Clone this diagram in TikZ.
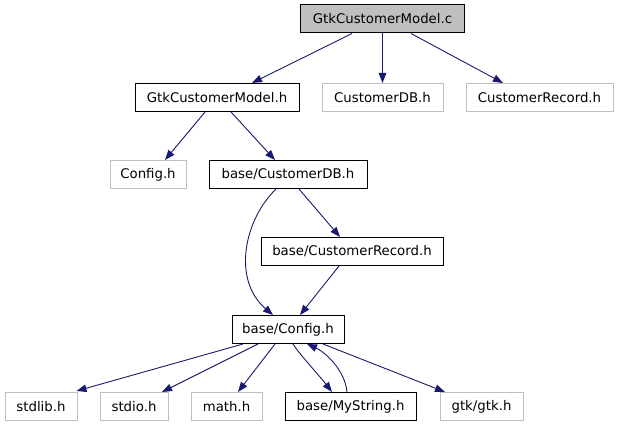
\documentclass[tikz,border=0pt]{standalone}
\usepackage{fontspec}
\setmainfont{DejaVu Sans}
\usetikzlibrary{arrows.meta}
\definecolor{edgeblue}{HTML}{191970}
\definecolor{lightbox}{HTML}{BFBFBF}
\begin{document}
\begin{tikzpicture}[x=1pt,y=-1pt,
  box/.style={draw=black,line width=1pt,inner sep=0pt,minimum height=28pt,
    font=\fontsize{13.3}{16}\selectfont,text=black},
  graybox/.style={box,draw=lightbox},
  topbox/.style={box,fill=lightbox},
  edge/.style={draw=edgeblue,line width=0.9pt,-{Triangle[length=10pt,width=7.5pt]}}]
\useasboundingbox (0,0) rectangle (619,427);
% nodes
\node[topbox,minimum width=164pt] (c) at (382.5,19) {GtkCustomerModel.c};
\node[box,minimum width=164pt] (gcmh) at (217,97.5) {GtkCustomerModel.h};
\node[graybox,minimum width=121pt] (cdb) at (382.5,97.5) {CustomerDB.h};
\node[graybox,minimum width=147pt] (crec) at (539.5,97.5) {CustomerRecord.h};
\node[graybox,minimum width=76pt] (cfg) at (148,174.5) {Config.h};
\node[box,minimum width=158pt] (bcdb) at (288,174.5) {base/CustomerDB.h};
\node[box,minimum width=182pt] (bcrec) at (352,251.5) {base/CustomerRecord.h};
\node[box,minimum width=112pt] (bcfg) at (288,329.5) {base/Config.h};
\node[graybox,minimum width=72pt] (stdlib) at (41,406.5) {stdlib.h};
\node[graybox,minimum width=68pt] (stdio) at (134,406.5) {stdio.h};
\node[graybox,minimum width=71pt] (math) at (226.5,406.5) {math.h};
\node[box,minimum width=131pt] (mystr) at (350.5,406.5) {base/MyString.h};
\node[graybox,minimum width=83pt] (gtk) at (481.5,406.5) {gtk/gtk.h};
% edges
\draw[edge] ([xshift=-30.5pt]c.south) -- ([xshift=35pt]gcmh.north);
\draw[edge] (c.south) -- (cdb.north);
\draw[edge] ([xshift=28.5pt]c.south) -- ([xshift=-36.5pt]crec.north);
\draw[edge] ([xshift=-12pt]gcmh.south) -- ([xshift=17pt]cfg.north);
\draw[edge] ([xshift=14pt]gcmh.south) -- ([xshift=-13pt]bcdb.north);
\draw[edge] ([xshift=11pt]bcdb.south) -- ([xshift=-12pt]bcrec.north);
\draw[edge] ([xshift=-12pt]bcdb.south) .. controls (244,220) and (232,280) .. ([xshift=-15pt]bcfg.north);
\draw[edge] ([xshift=-13pt]bcrec.south) -- ([xshift=12pt]bcfg.north);
\draw[edge] ([xshift=-45pt]bcfg.south) -- ([xshift=-1pt,yshift=1pt]stdlib.north east);
\draw[edge] ([xshift=-30pt]bcfg.south) -- ([xshift=28pt]stdio.north);
\draw[edge] ([xshift=-13pt]bcfg.south) -- ([xshift=11.5pt]math.north);
\draw[edge] ([xshift=5pt]bcfg.south) .. controls (300,355) and (318,374) .. ([xshift=-18.5pt]mystr.north);
\draw[edge] ([xshift=-3.5pt]mystr.north) .. controls (345,370) and (325,352) .. ([xshift=19pt]bcfg.south);
\draw[edge] ([xshift=35pt]bcfg.south) -- ([xshift=-36.5pt]gtk.north);
\end{tikzpicture}
\end{document}
